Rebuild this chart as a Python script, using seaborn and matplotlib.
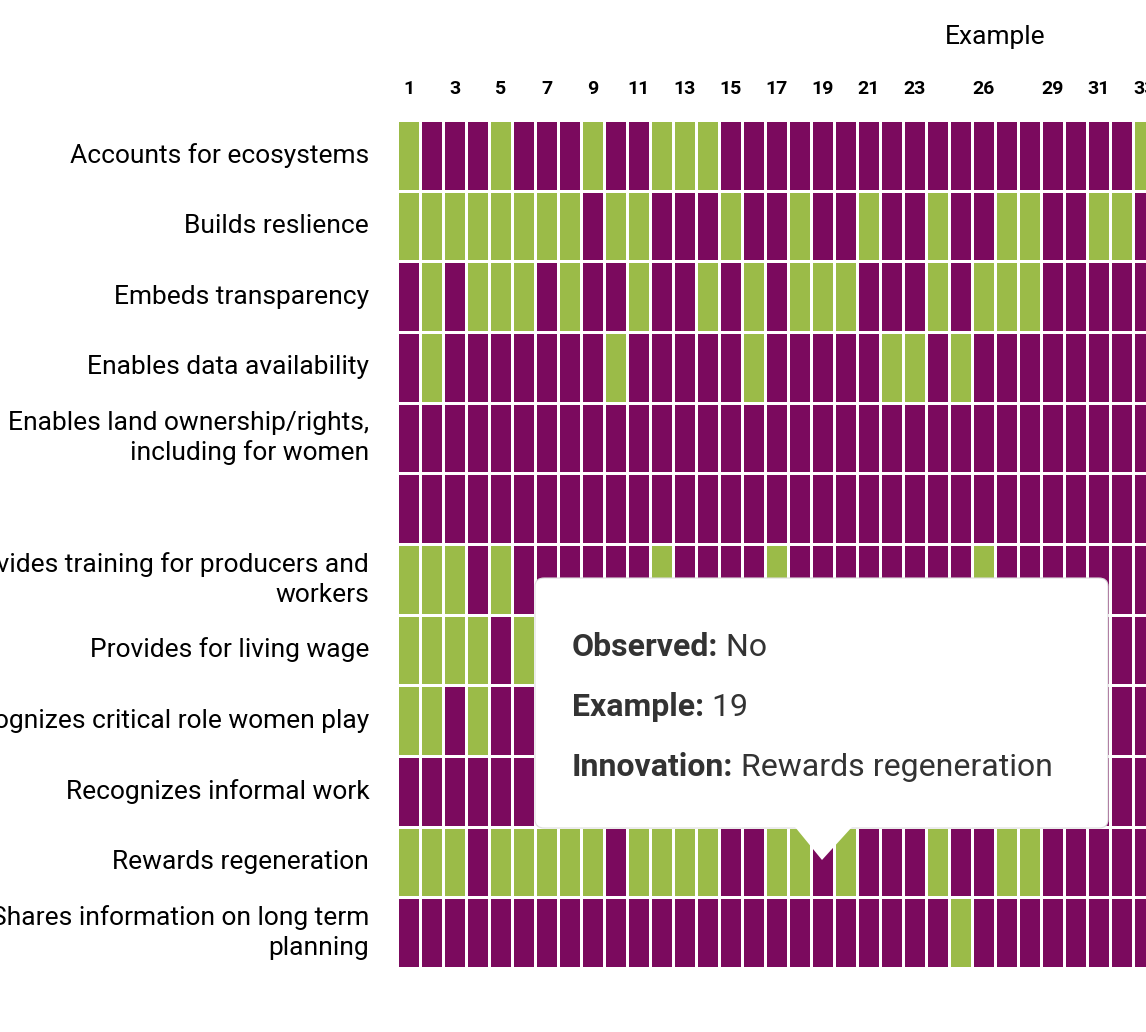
import matplotlib
matplotlib.use("Agg")
import matplotlib.pyplot as plt
import seaborn as sns
import numpy as np
import pandas as pd
from matplotlib.patches import FancyBboxPatch, Polygon
from matplotlib.colors import ListedColormap

innovations = ["Accounts for ecosystems", "Builds reslience", "Embeds transparency",
               "Enables data availability", "Enables land ownership/rights,\nincluding for women", "",
               "Provides training for producers and\nworkers", "Provides for living wage",
               "Recognizes critical role women play", "Recognizes informal work",
               "Rewards regeneration", "Shares information on long term\nplanning"]
examples = list(range(1, 35))
# 1 = observed (Yes), 0 = No ; rows as strings of 34 columns
rows = [
    "1000100010011100000000000000000010",
    "1111111101100010010010010011001100",
    "0101110100100101011100010111000000",
    "0100000001000001000001101000000000",
    "0000000000000000000000000000000000",
    "0000000000000000000000000000000000",
    "1110100000010000100000000100000000",
    "1111010000000000000000000000000000",
    "1101000000000000000000000000000000",
    "0000000000000000000000000000000000",
    "1110111110111100110100010011000000",
    "0000000000000000000000001000000000",
]
tick_shown = [1, 3, 5, 7, 9, 11, 13, 15, 17, 19, 21, 23, 26, 29, 31, 33]

data = pd.DataFrame([[int(c) for c in r] for r in rows], index=innovations, columns=examples)

plt.rcParams['font.family'] = ['Roboto', 'DejaVu Sans']
W, H = 1146, 1032
fig = plt.figure(figsize=(W/100, H/100), dpi=100)
ax = fig.add_axes([397/W, 1-968/H, 34*23/W, (968-120)/H])
cmap = ListedColormap(["#7B0A5E", "#9BBB48"])
sns.heatmap(data, ax=ax, cmap=cmap, cbar=False, linewidths=2, linecolor="white", vmin=0, vmax=1)
ax.xaxis.tick_top()
ax.set_xticks([examples.index(t) + 0.5 for t in tick_shown])
ax.set_xticklabels([str(t) for t in tick_shown], fontsize=14, fontweight="bold", rotation=0)
ax.set_yticklabels(innovations, fontsize=19, rotation=0, linespacing=1.3)
ax.tick_params(length=0, pad=20)
ax.tick_params(axis='x', pad=16)
ax.set_xlabel(""); ax.set_ylabel("")
fig.text(995/W, 1-37/H, "Example", ha="center", va="center", fontsize=19)

# tooltip
x0, y0, x1, y1 = 535/W, 1-828/H, 1108/W, 1-578/H
box = FancyBboxPatch((x0, y0), x1-x0, y1-y0, boxstyle="round,pad=0,rounding_size=0.008",
                     transform=fig.transFigure, facecolor="white", edgecolor="#dddddd", lw=0.8, zorder=10)
fig.add_artist(box)
tri = Polygon([[795/W, 1-827/H], [852/W, 1-827/H], [822/W, 1-860/H]], closed=True,
              transform=fig.transFigure, facecolor="white", edgecolor="none", zorder=11)
fig.add_artist(tri)
lines = [("Observed:", " No", 647), ("Example:", " 19", 707), ("Innovation:", " Rewards regeneration", 767)]
fig.canvas.draw()
r = fig.canvas.get_renderer()
for lab, val, y in lines:
    t = fig.text(572/W, 1-y/H, lab, fontsize=23, fontweight="bold", color="#333333", va="center", zorder=12)
    bb = t.get_window_extent(renderer=r)
    fig.text(bb.x1/W, 1-y/H, val, fontsize=23, color="#333333", va="center", zorder=12)

fig.savefig("out.png", dpi=100)
